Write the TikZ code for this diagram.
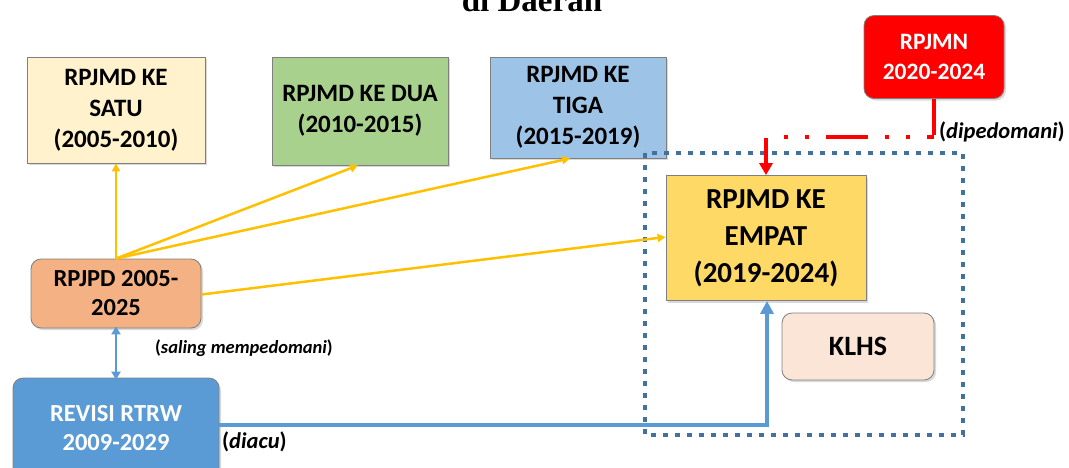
\documentclass[tikz,border=0pt]{standalone}
\usepackage{fontspec}
\setmainfont{Carlito}
\newfontfamily\titlefont{Liberation Serif}
\usetikzlibrary{arrows.meta,shadows}
\definecolor{cSatu}{HTML}{FFF2CC}
\definecolor{cDua}{HTML}{A9D18E}
\definecolor{cTiga}{HTML}{9DC3E6}
\definecolor{cRed}{HTML}{FF0000}
\definecolor{cEmpat}{HTML}{FFD966}
\definecolor{cKlhs}{HTML}{FBE5D6}
\definecolor{cRpjpd}{HTML}{F4B183}
\definecolor{cRtrw}{HTML}{5B9BD5}
\definecolor{cYel}{HTML}{FFC000}
\definecolor{cFrame}{HTML}{41719C}
\definecolor{cBorder}{HTML}{7F7F7F}
\tikzset{
  box/.style={draw=cBorder, line width=0.8pt, align=center, font=\bfseries\fontsize{25}{31}\selectfont,
    inner sep=0pt, drop shadow={shadow xshift=2pt, shadow yshift=-2pt, opacity=0.3}},
  rbox/.style={box, rounded corners=10pt},
  yarrow/.style={draw=cYel, line width=2.5pt, -{Triangle[length=8pt,width=8pt]}},
  barrow/.style={draw=cRtrw, line width=2pt},
  lbl/.style={font=\bfseries\fontsize{22.5}{24}\selectfont, inner sep=0pt}
}
\begin{document}
\begin{tikzpicture}[x=1pt,y=-1pt]
\useasboundingbox (0,0) rectangle (1069,467);
\clip (0,0) rectangle (1069,467);
\node[font=\titlefont\bfseries\fontsize{33}{36}\selectfont, anchor=base, inner sep=0pt] (title) at (532,11) {di Daerah};

\node[box, fill=cSatu, minimum width=178pt, minimum height=106pt] (satu) at (116,110) {RPJMD KE\\SATU\\(2005-2010)};
\node[box, fill=cDua, minimum width=176pt, minimum height=108pt] (dua) at (360,111) {RPJMD KE DUA\\(2010-2015)};
\node[box, fill=cTiga, minimum width=176pt, minimum height=101pt] (tiga) at (578,107.5) {RPJMD KE\\TIGA\\(2015-2019)};
\node[rbox, fill=cRed, text=white, minimum width=140pt, minimum height=83pt, font=\bfseries\fontsize{23.5}{30}\selectfont] (rpjmn) at (934,57) {RPJMN\\2020-2024};

\draw[cFrame, line width=4.5pt, dash pattern=on 5pt off 7pt] (645,153) rectangle (963,435);

\node[box, fill=cEmpat, minimum width=200pt, minimum height=125pt, font=\bfseries\fontsize{29}{37}\selectfont] (empat) at (766,238) {RPJMD KE\\EMPAT\\(2019-2024)};
\node[rbox, fill=cKlhs, minimum width=152pt, minimum height=67pt, font=\bfseries\fontsize{28}{32}\selectfont] (klhs) at (858,346.5) {KLHS};
\node[rbox, fill=cRpjpd, minimum width=170pt, minimum height=69pt, font=\bfseries\fontsize{24.5}{29}\selectfont] (rpjpd) at (116,293.5) {RPJPD 2005-\\2025};
\node[rbox, fill=cRtrw, text=white, minimum width=206pt, minimum height=100pt, font=\bfseries\fontsize{24.5}{29}\selectfont] (rtrw) at (116,428) {REVISI RTRW\\2009-2029};

% yellow arrows
\draw[yarrow] (rpjpd.north) -- (satu.south);
\draw[yarrow] (rpjpd.north) -- ([xshift=-2pt]dua.south);
\draw[yarrow] (rpjpd.north) -- ([xshift=-8pt]tiga.south);
\draw[yarrow] ([yshift=-1pt]rpjpd.east) -- ([yshift=1pt]empat.west);

% blue arrows
\draw[barrow, {Triangle[length=8pt,width=9pt]}-{Triangle[length=8pt,width=9pt]}] ([yshift=2pt]rpjpd.south) -- ([yshift=-2pt]rtrw.north);
\coordinate (bcorner) at (767,425);
\draw[draw=cRtrw, line width=4pt, -{Triangle[length=13pt,width=13pt]}] (rtrw.east |- bcorner) -- (bcorner) -- (bcorner |- empat.south);

% red connector
\coordinate (rr) at (934,137);
\coordinate (rl) at (766,137);
\draw[cRed, line width=4pt] (rpjmn.south) -- ([yshift=2pt]rr);
\draw[cRed, line width=4pt, dash pattern=on 42pt off 17pt on 4pt off 17pt on 4pt off 17pt, dash phase=35pt] ([xshift=0pt]rr) -- ([xshift=16pt]rl);
\draw[cRed, line width=4pt, -{Triangle[length=12pt,width=13pt]}] ([yshift=-1pt]rl) -- (empat.north);

% labels
\node[lbl, anchor=west] (ldip) at (939,132) {(\textit{dipedomani})};
\node[lbl, anchor=west, font=\bfseries\fontsize{18.5}{20}\selectfont] (lsal) at (155,348) {(\textit{saling mempedomani})};
\node[lbl, anchor=west] (ldia) at (222,442) {(\textit{diacu})};
\end{tikzpicture}
\end{document}
